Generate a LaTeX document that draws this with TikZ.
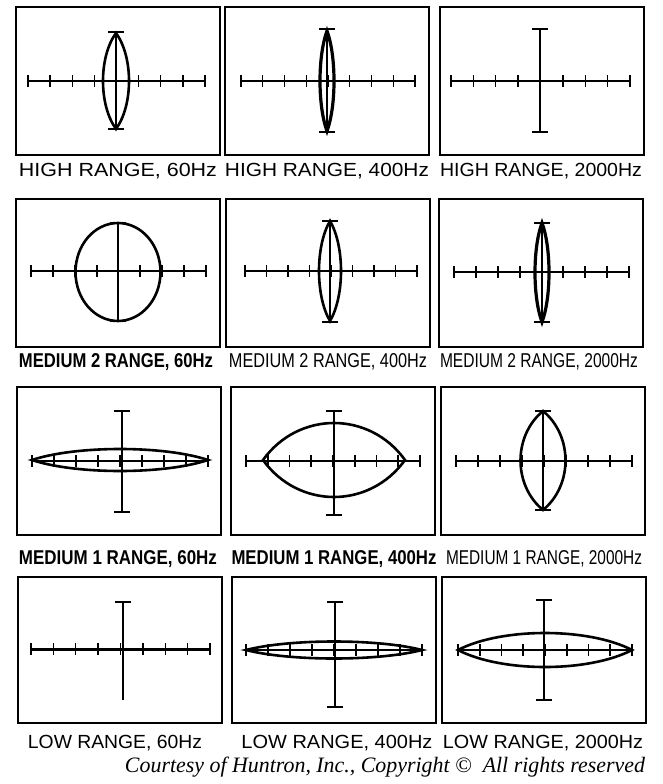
\documentclass[tikz,border=0pt]{standalone}
\usepackage{fontspec}
\setmainfont{Liberation Sans}
\newfontfamily\courtesyfont{Liberation Serif}
\usepackage{graphicx}
\usetikzlibrary{positioning}

\tikzset{
  screen/.style={draw,line width=2pt,minimum width=204pt,minimum height=148pt,inner sep=0pt},
  axisline/.style={line width=1.4pt},
  trace/.style={line width=2.6pt},
  lbl/.style={anchor=base,inner sep=0pt,font=\fontsize{19}{19}\selectfont},
  midlbl/.style={anchor=base,inner sep=0pt,font=\fontsize{20}{20}\selectfont},
}

% graticule: [axis width] left, right, y, vertical x, top, bottom
\newcommand{\grat}[7][1.4pt]{%
  \draw[line width=#1] (#2,#4) -- (#3,#4);
  \foreach \k in {0,...,8}
    \draw[line width=#1] ({#2+\k*(#3-#2)/8},{#4-6}) -- ++(0,12);
  \draw[axisline] (#5,#6) -- (#5,#7);
  \draw[axisline] ({#5-8},#6) -- ++(16,0) ({#5-8},#7) -- ++(16,0);
}
% lens traces: [width] centre x, centre y, half width, half height
\newcommand{\vlens}[5][2.6pt]{%
  \draw[line width=#1] (#2,{#3-#5}) .. controls ({#2+4/3*#4},{#3-#5/2}) and ({#2+4/3*#4},{#3+#5/2}) .. (#2,{#3+#5})
    .. controls ({#2-4/3*#4},{#3+#5/2}) and ({#2-4/3*#4},{#3-#5/2}) .. cycle;}
\newcommand{\hlens}[5][2.6pt]{%
  \draw[line width=#1] ({#2-#4},#3) .. controls ({#2-#4/2},{#3-4/3*#5}) and ({#2+#4/2},{#3-4/3*#5}) .. ({#2+#4},#3)
    .. controls ({#2+#4/2},{#3+4/3*#5}) and ({#2-#4/2},{#3+4/3*#5}) .. cycle;}
\newcommand{\fitw}[2]{\resizebox{#1pt}{\height}{#2}}

\begin{document}
\begin{tikzpicture}[x=1pt,y=-1pt]
\useasboundingbox (0,0) rectangle (663,784);

% screens
\node[screen] (s11) at (118,81) {};
\node[screen] (s12) at (327,81) {};
\node[screen] (s13) at (541.5,81) {};
\node[screen] (s21) at (117.5,273) {};
\node[screen] (s22) at (328,273) {};
\node[screen] (s23) at (541,273) {};
\node[screen] (s31) at (119,461) {};
\node[screen] (s32) at (332.5,461) {};
\node[screen] (s33) at (542.5,461) {};
\node[screen,minimum height=146pt] (s41) at (120,650) {};
\node[screen,minimum height=146pt] (s42) at (333.5,650) {};
\node[screen,minimum height=146pt] (s43) at (543.5,650) {};

% high range
\grat{28}{205}{81}{116}{32}{129}
\vlens{116}{81}{13}{48}
\grat{241}{415}{81}{327}{29}{132}
\vlens[3.2pt]{327}{81}{7}{50}
\grat{451}{630}{81}{540}{29}{132}
\draw[line width=2.8pt] (540,29) -- (540,132);

% medium 2 range
\grat[1.8pt]{31}{206}{271}{118}{223}{321}
\draw[trace] (118,272) ellipse [x radius=42.5,y radius=49];
\grat[1.8pt]{245}{417}{271}{330}{221}{322}
\vlens{330}{271}{11}{50}
\grat[1.8pt]{454}{629}{272}{542}{223}{322}
\vlens[3.2pt]{542}{272.5}{7}{49.5}

% medium 1 range
\grat[1.8pt]{32}{208}{461}{122}{411}{512}
\hlens{120}{460}{88}{11}
\grat[1.8pt]{246}{420}{461}{334}{411}{515}
\hlens{334}{460}{71}{37}
\grat[1.8pt]{456}{632}{461}{543}{411}{510}
\vlens{543}{460.5}{22.5}{49.5}

% low range
\draw[line width=3pt] (31,649) -- (210,649);
\foreach \k in {0,...,8}
  \draw[axisline] ({31+\k*179/8},643) -- ++(0,12);
\draw[axisline] (123,602) -- (123,700) (115,602) -- (131,602);
\grat{246}{422}{650}{335}{602}{707}
\hlens{334}{650}{88}{8.5}
\grat[1.8pt]{458}{632}{650}{544}{600}{700}
\hlens{545}{650}{87}{17}

% labels
\node[lbl] (l11) at (118,176) {\fitw{198}{HIGH RANGE, 60Hz}};
\node[lbl] (l12) at (327,176) {\fitw{204}{HIGH RANGE, 400Hz}};
\node[lbl] (l13) at (541,176) {\fitw{202}{HIGH RANGE, 2000Hz}};
\node[midlbl] (l21) at (116,367) {\fitw{194}{\bfseries MEDIUM 2 RANGE, 60Hz}};
\node[midlbl] (l22) at (328,367) {\fitw{198}{MEDIUM 2 RANGE, 400Hz}};
\node[midlbl] (l23) at (539,367) {\fitw{198}{MEDIUM 2 RANGE, 2000Hz}};
\node[midlbl] (l31) at (118,564) {\fitw{198}{\bfseries MEDIUM 1 RANGE, 60Hz}};
\node[midlbl] (l32) at (334,564) {\fitw{205}{\bfseries MEDIUM 1 RANGE, 400Hz}};
\node[midlbl] (l33) at (544,564) {\fitw{196}{MEDIUM 1 RANGE, 2000Hz}};
\node[lbl] (l41) at (115,748) {\fitw{174}{LOW RANGE, 60Hz}};
\node[lbl] (l42) at (337,748) {\fitw{191}{LOW RANGE, 400Hz}};
\node[lbl] (l43) at (543,748) {\fitw{200}{LOW RANGE, 2000Hz}};
\node[anchor=base,inner sep=0pt,font=\courtesyfont\itshape\fontsize{22}{22}\selectfont] (cr) at (385,772)
  {\fitw{520}{Courtesy of Huntron, Inc., Copyright \textcopyright\ \ All rights reserved}};
\end{tikzpicture}
\end{document}
